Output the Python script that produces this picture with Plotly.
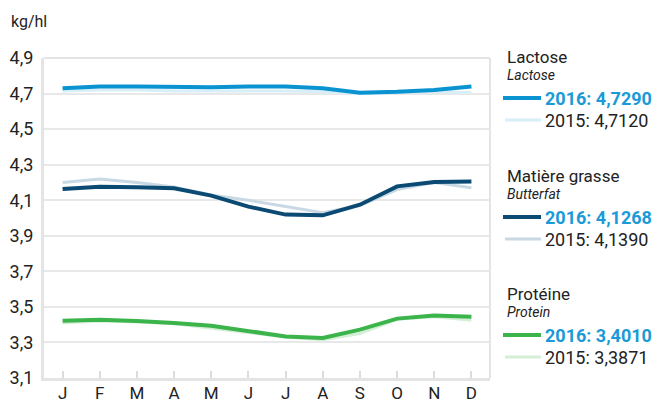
import plotly.graph_objects as go

months = ["J", "F", "M", "A", "M", "J", "J", "A", "S", "O", "N", "D"]
y_ticks = [3.1, 3.3, 3.5, 3.7, 3.9, 4.1, 4.3, 4.5, 4.7, 4.9]
y_tick_labels = ["3,1", "3,3", "3,5", "3,7", "3,9", "4,1", "4,3", "4,5", "4,7", "4,9"]

lactose_2016 = [4.73, 4.74, 4.74, 4.735, 4.735, 4.74, 4.74, 4.73, 4.705, 4.71, 4.72, 4.74]
lactose_2015 = [4.715, 4.72, 4.72, 4.715, 4.715, 4.715, 4.715, 4.71, 4.70, 4.705, 4.71, 4.705]
butterfat_2016 = [4.163, 4.176, 4.173, 4.167, 4.126, 4.064, 4.019, 4.015, 4.075, 4.178, 4.203, 4.206]
butterfat_2015 = [4.20, 4.22, 4.20, 4.175, 4.13, 4.10, 4.065, 4.03, 4.07, 4.16, 4.20, 4.17]
protein_2016 = [3.422, 3.428, 3.42, 3.41, 3.394, 3.362, 3.334, 3.325, 3.372, 3.434, 3.452, 3.445]
protein_2015 = [3.41, 3.42, 3.415, 3.405, 3.38, 3.355, 3.33, 3.315, 3.35, 3.43, 3.445, 3.425]

legend_groups = [
    ("Lactose", "Lactose", "2016: 4,7290", "2015: 4,7120"),
    ("Matière grasse", "Butterfat", "2016: 4,1268", "2015: 4,1390"),
    ("Protéine", "Protein", "2016: 3,4010", "2015: 3,3871"),
]

C_LAC16, C_LAC15 = "#0a93d1", "#d8eef8"
C_BF16, C_BF15 = "#0b4a73", "#c9d9e4"
C_PR16, C_PR15 = "#3bb44b", "#d5eed6"
FONT = "Roboto, Arial, sans-serif"

x = list(range(12))
fig = go.Figure()
series = [
    (lactose_2015, C_LAC15, 3),
    (butterfat_2015, C_BF15, 3),
    (protein_2015, C_PR15, 3),
    (lactose_2016, C_LAC16, 4),
    (butterfat_2016, C_BF16, 4),
    (protein_2016, C_PR16, 4),
]
for vals, col, w in series:
    fig.add_trace(go.Scatter(x=x, y=vals, mode="lines", line=dict(color=col, width=w),
                             hoverinfo="skip", showlegend=False))

# page has an 8px body margin: figure drawn at (8, 8)
fig.update_layout(
    width=656, height=394,
    margin=dict(l=36, r=174, t=50, b=24),
    paper_bgcolor="white", plot_bgcolor="white",
    font=dict(family=FONT, color="#222222"),
    xaxis=dict(range=[-0.5, 11.5], tickvals=x, ticktext=months, ticks="inside",
               ticklen=7, tickcolor="#dcdcdc", tickwidth=1.5, showgrid=False,
               showline=True, linecolor="#e4e4e4", linewidth=3, mirror=False,
               automargin=False, ticklabelstandoff=-2,
               tickfont=dict(size=17, family=FONT, color="#222"), zeroline=False, fixedrange=True),
    yaxis=dict(range=[3.1, 4.9], tickvals=y_ticks, ticktext=y_tick_labels,
               showgrid=True, gridcolor="#e8e8e8", gridwidth=2,
               showline=True, linecolor="#e4e4e4", linewidth=3, mirror=False,
               ticks="", ticklabelstandoff=4, automargin=False,
               tickfont=dict(size=18, family=FONT, color="#222"), zeroline=False, fixedrange=True),
)

fig.add_shape(type="line", xref="paper", yref="paper", x0=0, x1=1, y0=1, y1=1,
              line=dict(color="#e4e4e4", width=2))
fig.add_shape(type="line", xref="paper", yref="paper", x0=1, x1=1, y0=0, y1=1,
              line=dict(color="#e4e4e4", width=2))

# page pixel -> paper coordinates (plot area spans x 44..490, y 58..378 on the page)
def px_to_paper_x(px):
    return (px - 44) / 446

def px_to_paper_y(py):
    return (378 - py) / 320

fig.add_annotation(text="kg/hl", xref="paper", yref="paper", x=px_to_paper_x(9), y=px_to_paper_y(22),
                   xanchor="left", yanchor="middle", showarrow=False,
                   font=dict(size=16, family=FONT, color="#222"))

colors16 = [C_LAC16, C_BF16, C_PR16]
colors15 = [C_LAC15, C_BF15, C_PR15]
tops = [57, 176, 294]
for (title, sub, t16, t15), c16, c15, top in zip(legend_groups, colors16, colors15, tops):
    fig.add_annotation(text=title, xref="paper", yref="paper", x=px_to_paper_x(505),
                       y=px_to_paper_y(top), xanchor="left", yanchor="middle", showarrow=False,
                       font=dict(size=17, family=FONT, color="#222"))
    fig.add_annotation(text="<i>" + sub + "</i>", xref="paper", yref="paper", x=px_to_paper_x(505),
                       y=px_to_paper_y(top + 18), xanchor="left", yanchor="middle", showarrow=False,
                       font=dict(size=14, family=FONT, color="#222"))
    fig.add_shape(type="line", xref="paper", yref="paper", x0=px_to_paper_x(503), x1=px_to_paper_x(541),
                  y0=px_to_paper_y(top + 41), y1=px_to_paper_y(top + 41), line=dict(color=c16, width=4))
    fig.add_annotation(text="<b>" + t16 + "</b>", xref="paper", yref="paper", x=px_to_paper_x(543),
                       y=px_to_paper_y(top + 41), xanchor="left", yanchor="middle", showarrow=False,
                       font=dict(size=18, family=FONT, color="#1b9ad7"))
    fig.add_shape(type="line", xref="paper", yref="paper", x0=px_to_paper_x(505), x1=px_to_paper_x(541),
                  y0=px_to_paper_y(top + 63), y1=px_to_paper_y(top + 63), line=dict(color=c15, width=3))
    fig.add_annotation(text=t15, xref="paper", yref="paper", x=px_to_paper_x(543),
                       y=px_to_paper_y(top + 63), xanchor="left", yanchor="middle", showarrow=False,
                       font=dict(size=18, family=FONT, color="#222"))

fig.write_html("out.html")
